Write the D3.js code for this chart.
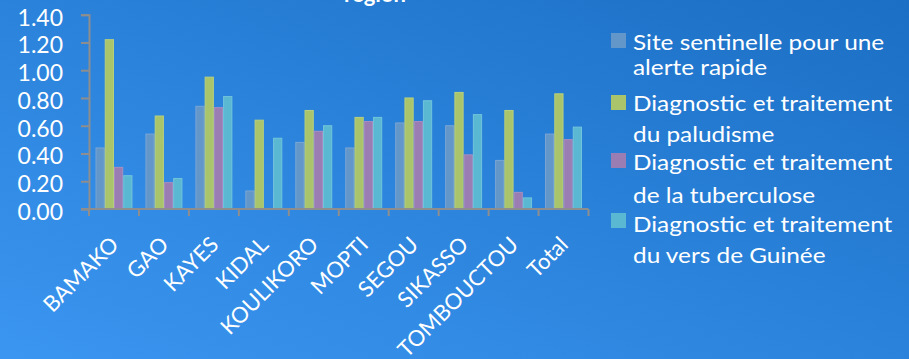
<!DOCTYPE html>
<html>
<head>
<meta charset="utf-8">
<script src="https://cdn.jsdelivr.net/npm/d3@7/dist/d3.min.js"></script>
<style>
  html, body { margin: 0; padding: 0; background: #2a85de; }
  svg { display: block; }
  text { font-family: Lato, "Open Sans", sans-serif; fill: #ffffff; }
</style>
</head>
<body>
<svg id="chart" width="909" height="359"></svg>
<script>
// Regions along the x axis
const categories = ["BAMAKO", "GAO", "KAYES", "KIDAL", "KOULIKORO", "MOPTI", "SEGOU", "SIKASSO", "TOMBOUCTOU", "Total"];

// One array per indicator, in category order
const siteSentinelle = [0.44, 0.54, 0.74, 0.13, 0.48, 0.44, 0.62, 0.60, 0.35, 0.54];
const paludisme      = [1.22, 0.67, 0.95, 0.64, 0.71, 0.66, 0.80, 0.84, 0.71, 0.83];
const tuberculose    = [0.30, 0.19, 0.73, 0.00, 0.56, 0.63, 0.63, 0.39, 0.12, 0.50];
const versGuinee     = [0.24, 0.22, 0.81, 0.51, 0.60, 0.66, 0.78, 0.68, 0.08, 0.59];

// Legend labels, one array of lines per series
const seriesLabels = [
  ["Site sentinelle pour une", "alerte rapide"],
  ["Diagnostic et traitement", "du paludisme"],
  ["Diagnostic et traitement", "de la tuberculose"],
  ["Diagnostic et traitement", "du vers de Guinée"]
];
const seriesColors = ["#6396c9", "#a9c46a", "#997db3", "#5bb8d2"];
const seriesStroke = ["#7aa6d4", "#b8d07e", "#a88fc0", "#72c4db"];

const yTicks = [0, 0.2, 0.4, 0.6, 0.8, 1.0, 1.2, 1.4];
const chartTitle = "region";

const seriesValues = [siteSentinelle, paludisme, tuberculose, versGuinee];
const seriesKeys = d3.range(seriesValues.length);

const svg = d3.select("#chart");
const W = 909, H = 359;

// Diagonal blue background
const defs = svg.append("defs");
const grad = defs.append("linearGradient")
  .attr("id", "bg").attr("x1", 0).attr("y1", 1).attr("x2", 1).attr("y2", 0);
grad.append("stop").attr("offset", 0).attr("stop-color", "#3b96f1");
grad.append("stop").attr("offset", 1).attr("stop-color", "#1b6fc4");
svg.append("rect").attr("width", W).attr("height", H).attr("fill", "url(#bg)");

// Plot area
const plot = { left: 89, right: 588.5, top: 14.7, bottom: 209 };

const x = d3.scaleBand().domain(categories).range([plot.left, plot.right]).padding(0);
const xInner = d3.scaleBand().domain(seriesKeys)
  .range([x.bandwidth() * 0.13, x.bandwidth() * 0.87]).padding(0);
const y = d3.scaleLinear().domain([0, 1.4]).range([plot.bottom, plot.top]);

// Bars
const groups = svg.append("g").selectAll("g")
  .data(categories)
  .join("g")
  .attr("transform", d => `translate(${x(d)},0)`);

groups.selectAll("rect")
  .data((c, i) => seriesKeys.map(k => ({ k, v: seriesValues[k][i] })))
  .join("rect")
  .attr("x", d => xInner(d.k) + 0.5)
  .attr("y", d => y(d.v))
  .attr("width", xInner.bandwidth() - 1)
  .attr("height", d => Math.max(0, y(0) - y(d.v)))
  .attr("fill", d => seriesColors[d.k])
  .attr("stroke", d => seriesStroke[d.k])
  .attr("stroke-width", d => d.v > 0 ? 1 : 0);

// Y axis
const yAxis = svg.append("g")
  .attr("transform", `translate(${plot.left},0)`)
  .call(d3.axisLeft(y).tickValues(yTicks).tickFormat(d3.format(".2f")).tickSize(8).tickPadding(18));
yAxis.select(".domain").attr("stroke", "#8e8e8e").attr("stroke-width", 2);
yAxis.selectAll(".tick line").attr("stroke", "#8e8e8e").attr("stroke-width", 2);
yAxis.selectAll(".tick text")
  .attr("font-size", 23)
  .attr("font-family", "Lato, sans-serif")
  .attr("fill", "#fff")
  .attr("dy", "0.45em");

// X axis line with category boundary ticks
const xAxisG = svg.append("g");
xAxisG.append("line")
  .attr("x1", plot.left - 8).attr("x2", plot.right)
  .attr("y1", y(0)).attr("y2", y(0))
  .attr("stroke", "#8e8e8e").attr("stroke-width", 2);
const boundaries = categories.map(c => x(c)).concat([x(categories[categories.length - 1]) + x.bandwidth()]);
xAxisG.selectAll("line.b")
  .data(boundaries)
  .join("line")
  .attr("class", "b")
  .attr("x1", d => d).attr("x2", d => d)
  .attr("y1", y(0)).attr("y2", y(0) + 7)
  .attr("stroke", "#8e8e8e").attr("stroke-width", 2);

// Rotated category labels
xAxisG.selectAll("text")
  .data(categories)
  .join("text")
  .attr("text-anchor", "end")
  .attr("font-size", 22)
  .attr("transform", d => `translate(${x(d) + x.bandwidth() / 2 + 6},${y(0) + 37}) rotate(-45)`)
  .text(d => d);

// Title, partly above the top edge
svg.append("text")
  .attr("x", 375).attr("y", 2)
  .attr("text-anchor", "middle")
  .attr("font-size", 22)
  .attr("font-weight", "bold")
  .text(chartTitle);

// Legend
const legendSquares = [33, 95, 153, 213];
const legendBaselines = [[50, 75], [110.7, 141.7], [170, 203], [232, 263]];
const legend = svg.append("g");
seriesKeys.forEach(k => {
  legend.append("rect")
    .attr("x", 611).attr("y", legendSquares[k])
    .attr("width", 15).attr("height", 15)
    .attr("fill", seriesColors[k]);
  seriesLabels[k].forEach((line, j) => {
    legend.append("text")
      .attr("transform", `translate(633,${legendBaselines[k][j]}) scale(1.16,1)`)
      .attr("font-size", 21)
      .text(line);
  });
});
</script>
</body>
</html>
